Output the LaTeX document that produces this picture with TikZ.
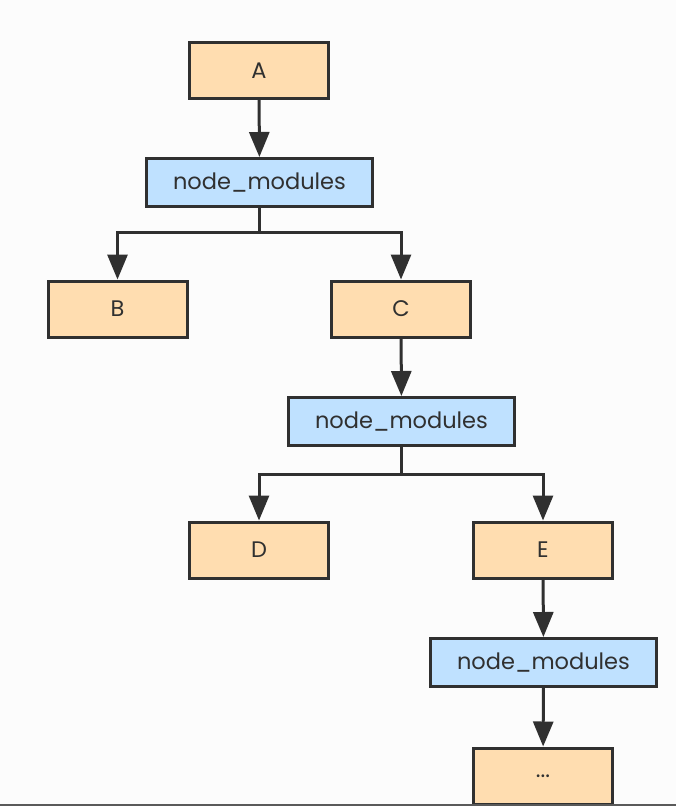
\documentclass[tikz,border=0pt]{standalone}
\usepackage{fontspec}
\setmainfont{Poppins}
\usetikzlibrary{positioning,arrows.meta,calc}
\definecolor{pkgfill}{HTML}{FFDDB0}
\definecolor{dirfill}{HTML}{BFE1FF}
\definecolor{ink}{HTML}{303030}
\definecolor{paper}{HTML}{FCFCFC}
\tikzset{
  x=1pt,y=-1pt,
  pkg/.style={draw=ink,fill=pkgfill,line width=3pt,minimum width=139pt,
    minimum height=56pt,inner sep=0pt,font=\fontsize{22.5}{27}\selectfont,text=ink},
  dir/.style={draw=ink,fill=dirfill,line width=3pt,minimum width=226pt,
    minimum height=48pt,inner sep=0pt,font=\fontsize{22.5}{27}\selectfont,text=ink},
  dep/.style={-{Triangle[length=25pt,width=20pt]},draw=ink,line width=3pt},
}
\begin{document}
\begin{tikzpicture}
  \fill[paper] (0,0) rectangle (676,806);
  \useasboundingbox (0,0) rectangle (676,806);
  \node[pkg] (a) at (259,70.5) {A};
  \node[dir] (nm1) at (259.5,182.5) {node\_modules};
  \node[pkg] (b) at (117.5,309) {B};
  \node[pkg] (c) at (401,309) {C};
  \node[dir] (nm2) at (401.5,421.5) {node\_modules};
  \node[pkg] (d) at (259,550) {D};
  \node[pkg] (e) at (543,550) {E};
  \node[dir] (nm3) at (543.5,662.5) {node\_modules};
  \node[pkg] (f) at (543,776) {...};
  \coordinate (j1) at (259.5,232);
  \coordinate (j2) at (401.5,474);
  \draw[dep] (a) -- (nm1);
  \draw[dep] (nm1.south) -- (j1) -| (b.north);
  \draw[dep] (j1) -| (c.north);
  \draw[dep] (c) -- (nm2);
  \draw[dep] (nm2.south) -- (j2) -| (d.north);
  \draw[dep] (j2) -| (e.north);
  \draw[dep] (e) -- (nm3);
  \draw[dep] (nm3) -- (f);
  \draw[ink!80,line width=2pt] (0,805) -- (676,805);
\end{tikzpicture}
\end{document}
